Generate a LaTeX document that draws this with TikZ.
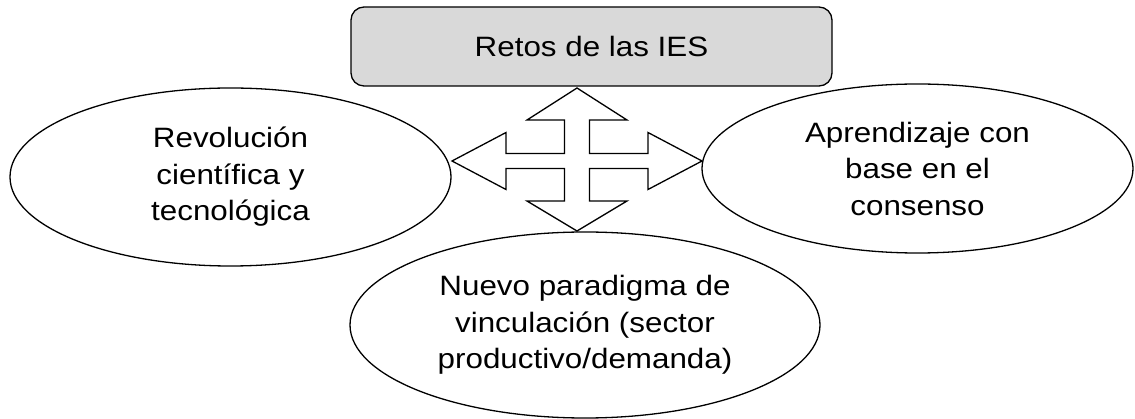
\documentclass[tikz,border=0pt]{standalone}
\usepackage{fontspec}
\setmainfont{Liberation Sans}[FakeStretch=1.12]
\usetikzlibrary{shapes.geometric}
\begin{document}
\begin{tikzpicture}[x=1pt,y=-1pt,
  lw/.style={line width=1.3pt},
  oval/.style={ellipse,draw,lw,inner sep=0pt,align=center,font=\fontsize{28}{36.5}\selectfont},
  title/.style={draw,lw,rounded corners=13pt,fill=black!15,inner sep=0pt,font=\fontsize{28}{36.5}\selectfont}]
\useasboundingbox (0,0) rectangle (1135,419);
\node[title,minimum width=481pt,minimum height=79pt] (ret) at (591.5,46.5) {Retos de las IES};
\node[oval,minimum width=441pt,minimum height=178pt] (rev) at (230.5,177) {Revolución\\científica y\\tecnológica};
\node[oval,minimum width=431pt,minimum height=169pt] (apr) at (917.5,168.5) {Aprendizaje con\\base en el\\consenso};
\node[oval,minimum width=470pt,minimum height=186pt] (nue) at (585,325) {Nuevo paradigma de\\vinculación (sector\\productivo/demanda)};
\draw[lw,line join=miter] (577,88) -- (627,120) -- (589.5,120) -- (589.5,153.5) -- (648,153.5) -- (648,132.5)
  -- (702,161) -- (648,189.5) -- (648,168.5) -- (589.5,168.5) -- (589.5,201) -- (627,201)
  -- (577,231) -- (527,201) -- (564.5,201) -- (564.5,168.5) -- (506,168.5) -- (506,189.5)
  -- (452,161) -- (506,132.5) -- (506,153.5) -- (564.5,153.5) -- (564.5,120) -- (527,120) -- cycle;
\end{tikzpicture}
\end{document}
